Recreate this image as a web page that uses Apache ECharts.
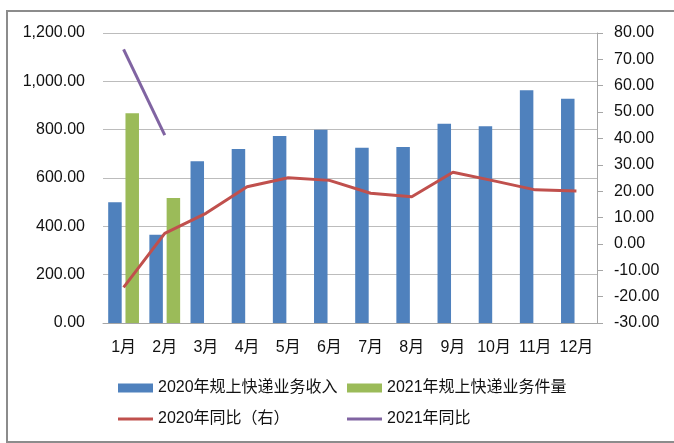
<!DOCTYPE html>
<html>
<head>
<meta charset="utf-8">
<script src="https://cdn.jsdelivr.net/npm/echarts@6/dist/echarts.min.js"></script>
<style>html,body{margin:0;padding:0;background:#fff;}#c{width:674px;height:443px;}</style>
</head>
<body>
<div id="c"></div>
<script>
const months = ['1月','2月','3月','4月','5月','6月','7月','8月','9月','10月','11月','12月'];
const revenue2020 = [500, 365, 669, 720, 774, 800, 725, 728, 825, 814, 963, 928];
const volume2021 = [868, 517, null, null, null, null, null, null, null, null, null, null];
const yoy2020 = [-16.5, 4.0, 11.6, 21.7, 25.1, 24.1, 19.2, 17.9, 27.2, 23.9, 20.5, 20.1];
const yoy2021 = [73.8, 41.3, null, null, null, null, null, null, null, null, null, null];
const names = ['2020年规上快递业务收入', '2021年规上快递业务件量', '2020年同比（右）', '2021年同比'];

const FONT = '"Liberation Sans", "Noto Sans CJK SC", sans-serif';
const txt = {fontFamily: FONT, fontSize: 16, color: '#111'};
function fmt(v){
  return v.toLocaleString('en-US', {minimumFractionDigits: 2, maximumFractionDigits: 2});
}
function lg(name, left, top, w, h){
  return {data: [{name: name, icon: 'rect'}], left: left, top: top, padding: 0, itemWidth: w, itemHeight: h,
    itemGap: 5, textStyle: txt, selectedMode: false};
}
const chart = echarts.init(document.getElementById('c'), null, {renderer: 'canvas'});
chart.setOption({
  animation: false,
  backgroundColor: '#fff',
  graphic: [{type: 'rect', shape: {x: 7, y: 11, width: 700, height: 431},
    style: {fill: 'none', stroke: '#8c8c8c', lineWidth: 2}, silent: true}],
  grid: {left: 103, right: 77, top: 33, bottom: 120},
  legend: [
    lg(names[0], 118, 380, 35, 9),
    lg(names[1], 347, 380, 35, 9),
    lg(names[2], 118, 411, 35, 3),
    lg(names[3], 347, 411, 35, 3)
  ],
  xAxis: {
    type: 'category', data: months,
    axisLine: {show: true, lineStyle: {color: '#a6a6a6', width: 1}},
    axisTick: {show: false},
    axisLabel: Object.assign({margin: 17, interval: 0}, txt)
  },
  yAxis: [
    {type: 'value', min: 0, max: 1200, interval: 200,
     axisLine: {show: false}, axisTick: {show: false},
     splitLine: {lineStyle: {color: '#bcbcbc', width: 1}},
     axisLabel: Object.assign({margin: 18, formatter: fmt}, txt)},
    {type: 'value', min: -30, max: 80, interval: 10,
     axisLine: {show: true, lineStyle: {color: '#a6a6a6', width: 1}},
     axisTick: {show: true, length: 6, lineStyle: {color: '#a6a6a6'}},
     splitLine: {show: false},
     axisLabel: Object.assign({margin: 17, formatter: v => v.toFixed(2)}, txt)}
  ],
  series: [
    {name: names[0], type: 'bar', data: revenue2020, barWidth: 13.5, barGap: '28%',
     itemStyle: {color: '#4f81bd'}},
    {name: names[1], type: 'bar', data: volume2021, barWidth: 13.5, barGap: '28%',
     itemStyle: {color: '#9bbb59'}},
    {name: names[2], type: 'line', yAxisIndex: 1, data: yoy2020, symbol: 'none',
     lineStyle: {color: '#c0504d', width: 3}, itemStyle: {color: '#c0504d'}},
    {name: names[3], type: 'line', yAxisIndex: 1, data: yoy2021, symbol: 'none',
     lineStyle: {color: '#8064a2', width: 3}, itemStyle: {color: '#8064a2'}}
  ]
});
</script>
</body>
</html>
